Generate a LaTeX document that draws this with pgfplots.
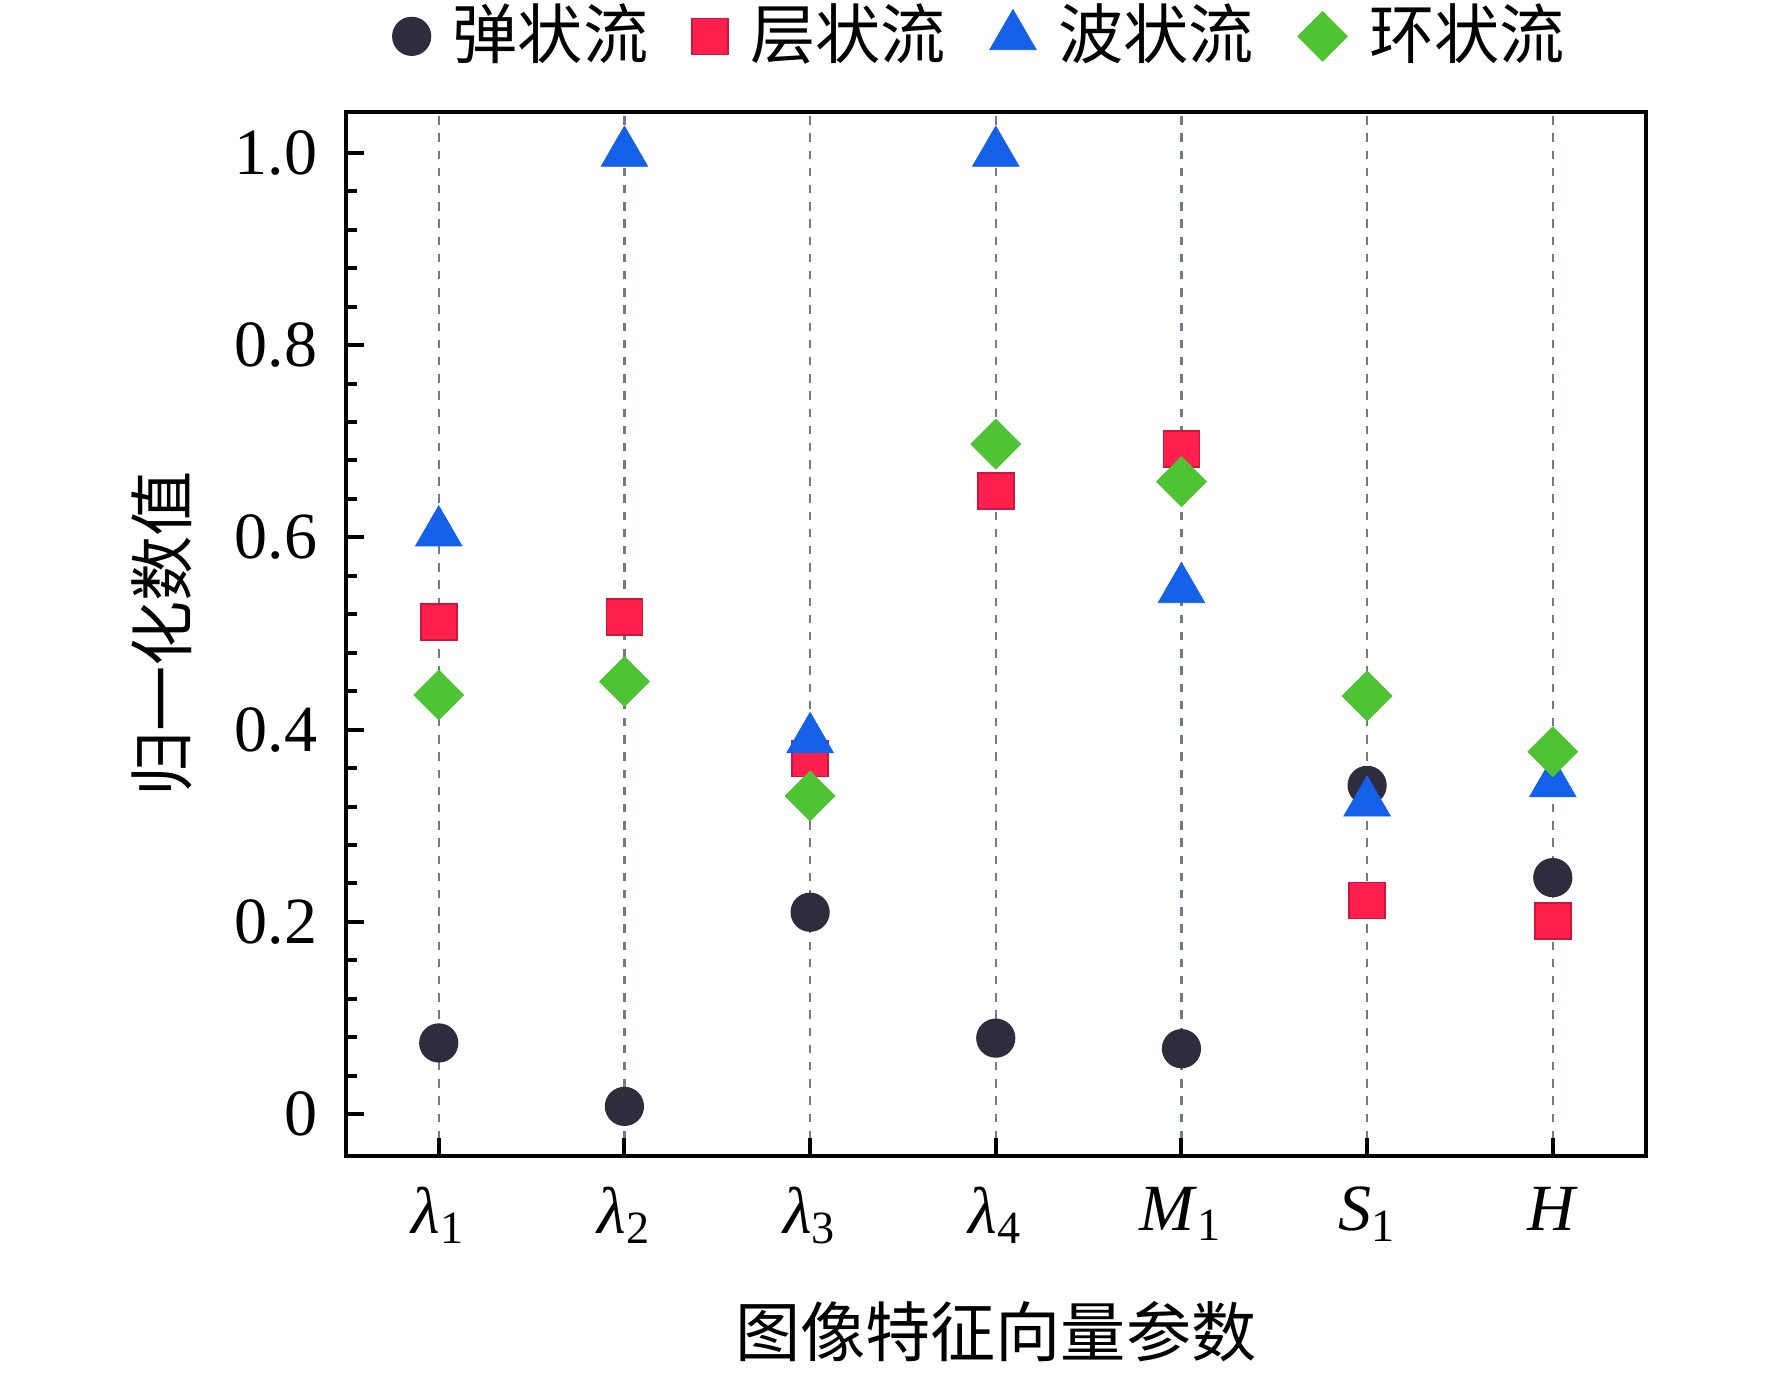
\documentclass[border=0pt]{standalone}
\usepackage{fontspec}
\setmainfont{Liberation Serif}
\newfontfamily\cjk{Noto Sans CJK SC}
\usepackage{pgfplots}
\pgfplotsset{compat=1.18}

\definecolor{cA}{RGB}{46,45,61}
\definecolor{cB}{RGB}{255,31,77}
\definecolor{cBd}{RGB}{205,22,62}
\definecolor{cC}{RGB}{20,96,232}
\definecolor{cD}{RGB}{78,195,52}
\definecolor{gridc}{RGB}{115,122,138}

\begin{document}
\fontsize{16.5}{19}\selectfont
\begin{tikzpicture}
\begin{axis}[
  at={(0,0)}, anchor=south west,
  scale only axis, width=325pt, height=261.25pt,
  xmin=-0.5, xmax=6.5, ymin=-0.044, ymax=1.043,
  xtick={0,1,2,3,4,5,6},
  xticklabels={{\textit{λ}\textsubscript{1}},{\textit{λ}\textsubscript{2}},{\textit{λ}\textsubscript{3}},{\textit{λ}\textsubscript{4}},{\textit{M}\textsubscript{1}},{\textit{S}\textsubscript{1}},{\textit{H}}},
  ytick={0,0.2,0.4,0.6,0.8,1.0},
  yticklabels={0,0.2,0.4,0.6,0.8,1.0},
  minor y tick num=4,
  tick align=inside, xtick pos=bottom, ytick pos=left,
  major tick length=4.5pt, minor tick length=2.7pt,
  every tick/.style={black, line width=1pt},
  axis line style={line width=1pt},
  xmajorgrids,
  grid style={gridc, dash pattern=on 2.1pt off 2.2pt, line width=0.6pt},
  yticklabel style={xshift=-1.5pt},
  xticklabel style={yshift=-2pt},
  xlabel={\cjk\fontsize{16.3}{19}\selectfont 图像特征向量参数},
  ylabel={\cjk\fontsize{16.3}{19}\selectfont 归一化数值},
  xlabel style={at={(axis description cs:0.5,-0.1675)}, anchor=center},
  ylabel style={at={(axis description cs:-0.142,0.5)}, anchor=center},
  legend columns=4,
  legend cell align=left,
  legend image code/.code={\draw[#1] plot coordinates {(0pt,0pt)};},
  legend style={at={(0.487,1.072)}, anchor=center, draw=none, fill=none,
    font=\cjk\fontsize{16.3}{19}\selectfont,
    nodes={inner sep=0pt},
    /tikz/every odd column/.append style={column sep=5.5pt},
    /tikz/every even column/.append style={column sep=11pt}},
]
\addplot[only marks, mark=*, mark size=4.75pt, color=cA, line width=0.3pt]
  coordinates {(0,0.074) (1,0.008) (2,0.21) (3,0.079) (4,0.068) (5,0.342) (6,0.246)};
\addlegendentry{弹状流}
\addplot[only marks, mark=square*, mark size=4.5pt, draw=cBd, fill=cB, line width=0.4pt]
  coordinates {(0,0.512) (1,0.517) (2,0.37) (3,0.648) (4,0.692) (5,0.222) (6,0.201)};
\addlegendentry{层状流}
\addplot[only marks, mark=triangle*, mark size=6.7pt, color=cC, line width=0.2pt]
  coordinates {(0,0.605) (1,1.0) (2,0.39) (3,1.0) (4,0.546) (5,0.324) (6,0.344)};
\addlegendentry{波状流}
\addplot[only marks, mark=square*, mark size=4.4pt, mark options={rotate=45}, color=cD, line width=0.2pt]
  coordinates {(0,0.436) (1,0.450) (2,0.331) (3,0.697) (4,0.658) (5,0.435) (6,0.377)};
\addlegendentry{环状流}
\end{axis}
\pgfresetboundingbox
\path[use as bounding box] (-86.5pt,-54.3pt) rectangle (356.6pt,289.15pt);
\end{tikzpicture}
\end{document}
